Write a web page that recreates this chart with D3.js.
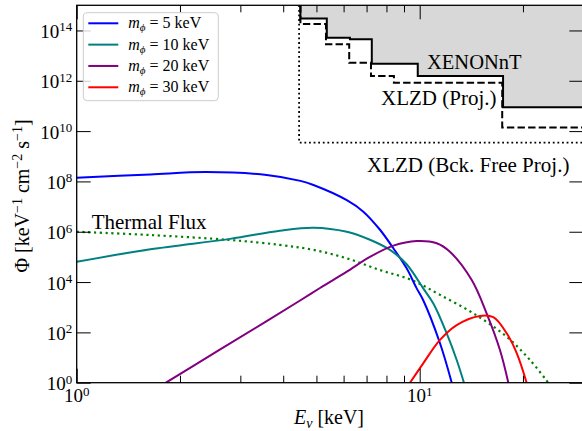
<!DOCTYPE html>
<html>
<head>
<meta charset="utf-8">
<script src="https://cdn.jsdelivr.net/npm/d3@7"></script>
<style>
  body { margin: 0; background: #fff; }
  text { font-family: "Liberation Serif", "DejaVu Serif", serif; fill: #000; }
</style>
</head>
<body>
<div id="chart"></div>
<script>
// Values: energy in keV, flux in keV^-1 cm^-2 s^-1
const energy5  = [1.0, 1.64, 2.39, 3.58, 4.49, 4.90, 6.13, 6.85, 7.66, 8.38, 9.16, 9.80, 10.24, 11.46, 12.4];
const flux5    = [1.4e8, 1.9e8, 2.35e8, 1.8e8, 1.05e8, 7.2e7, 1.8e7, 6.3e6, 1.2e6, 2.2e5, 3.5e4, 5.6e3, 1.9e3, 37, 1];

const energy10 = [1.0, 1.64, 2.80, 3.91, 4.90, 6.13, 7.16, 8.19, 9.16, 10.24, 10.96, 11.98, 12.82, 13.46];
const flux10   = [6.4e4, 2.0e5, 5.2e5, 1.1e6, 1.45e6, 1.0e6, 4.8e5, 1.9e5, 5.1e4, 5.6e3, 1.4e3, 93, 8, 1];

const energy20 = [1.82, 2.62, 3.58, 4.48, 5.12, 6.13, 7.16, 8.38, 9.80, 11.21, 12.25, 14.18, 15.67, 17.14, 18.13];
const flux20   = [1, 21, 280, 1.85e3, 5.8e3, 2.6e4, 1.0e5, 2.8e5, 4.3e5, 3.5e5, 1.6e5, 1.2e4, 575, 20, 1];

const energy30 = [9.37, 10.24, 11.46, 12.82, 14.99, 16.39, 17.93, 19.18, 20.5];
const flux30   = [1, 5.9, 50, 195, 450, 400, 92, 15, 1];

const energyThermal = [1.0, 1.64, 2.80, 3.91, 4.90, 6.13, 7.66, 9.48, 11.46, 14.33, 17.93, 20.97, 23.7];
const fluxThermal   = [1.0e6, 7.4e5, 4.7e5, 3.0e5, 1.9e5, 8.8e4, 3.0e4, 1.2e4, 3.1e3, 575, 67, 8, 1];

// Experimental limits (step edges in keV, flux level per bin)
const xenonEdges  = [4.49, 5.36, 6.26, 7.25, 9.87, 17.5, 30];
const xenonLimits = [3.0e14, 5.1e13, 4.5e13, 4.7e12, 1.55e12, 8.9e10];
const xlzdEdges   = [4.49, 5.33, 6.23, 7.21, 8.41, 17.4, 30];
const xlzdLimits  = [1.8e14, 2.8e13, 5.2e12, 1.55e12, 8.3e11, 1.4e10];
const bkgFreeEdges  = [4.45, 30];
const bkgFreeLimits = [3.5e9];

const masses = ["5", "10", "20", "30"];
const colors = ["blue", "teal", "purple", "red"];

const xMajor = [1, 10];
const xMinor = [2, 3, 4, 5, 6, 7, 8, 9, 20];
const yMajor = [1, 1e2, 1e4, 1e6, 1e8, 1e10, 1e12, 1e14];

// Set up margins and dimensions
const margin = { top: 5.3, left: 76.7 },
      width = 343 * Math.log10(30),
      height = 25.16 * 15;

const svg = d3.select("#chart")
    .append("svg")
    .attr("width", 582)
    .attr("height", 431);

const g = svg.append("g")
    .attr("transform", `translate(${margin.left},${margin.top})`);

const x = d3.scaleLog().domain([1, 30]).range([0, width]);
const y = d3.scaleLog().domain([1, 1e15]).range([height, 0]);

svg.append("defs").append("clipPath").attr("id", "clip")
    .append("rect").attr("width", width).attr("height", height);

const plot = g.append("g").attr("clip-path", "url(#clip)");

// Step limits
function stepPoints(edges, limits) {
    const pts = [{ e: edges[0], v: 1e15 }];
    limits.forEach((v, i) => pts.push({ e: edges[i], v }));
    pts.push({ e: edges[edges.length - 1], v: limits[limits.length - 1] });
    return pts;
}
const stepLine = d3.line().curve(d3.curveStepAfter).x(d => x(d.e)).y(d => y(d.v));

const xenonPts = stepPoints(xenonEdges, xenonLimits);
plot.append("path")
    .datum(xenonPts.slice(1))
    .attr("fill", "#d8d8d8")
    .attr("d", d3.area().curve(d3.curveStepAfter).x(d => x(d.e)).y0(0).y1(d => y(d.v)));

plot.append("path")
    .datum(stepPoints(bkgFreeEdges, bkgFreeLimits))
    .attr("fill", "none").attr("stroke", "#000")
    .attr("stroke-width", 1.8).attr("stroke-dasharray", "1.8,2.8")
    .attr("d", stepLine);

plot.append("path")
    .datum(stepPoints(xlzdEdges, xlzdLimits))
    .attr("fill", "none").attr("stroke", "#000")
    .attr("stroke-width", 2).attr("stroke-dasharray", "7.4,3.2")
    .attr("d", stepLine);

plot.append("path")
    .datum(xenonPts)
    .attr("fill", "none").attr("stroke", "#000")
    .attr("stroke-width", 2)
    .attr("d", stepLine);

// Flux curves
const series = [
    { e: energy5, f: flux5 },
    { e: energy10, f: flux10 },
    { e: energy20, f: flux20 },
    { e: energy30, f: flux30 }
];
const curve = d3.line().curve(d3.curveCatmullRom.alpha(0.5)).x(d => x(d[0])).y(d => y(d[1]));

plot.append("path")
    .datum(d3.zip(energyThermal, fluxThermal))
    .attr("fill", "none").attr("stroke", "green")
    .attr("stroke-width", 2.2).attr("stroke-dasharray", "2.2,3.6")
    .attr("d", curve);

series.forEach((s, i) => {
    plot.append("path")
        .datum(d3.zip(s.e, s.f))
        .attr("fill", "none")
        .attr("stroke", colors[i])
        .attr("stroke-width", 2)
        .attr("d", curve);
});

// Axes with inward ticks on all four sides
function ticks(axis, vals, size) {
    return axis.tickValues(vals).tickSizeInner(-size).tickSizeOuter(0).tickFormat("");
}
const axes = [
    [d3.axisBottom(x), `translate(0,${height})`, xMajor, 14],
    [d3.axisBottom(x), `translate(0,${height})`, xMinor, 7],
    [d3.axisTop(x), "", xMajor, 14],
    [d3.axisTop(x), "", xMinor, 7],
    [d3.axisLeft(y), "", yMajor, 14],
    [d3.axisRight(y), `translate(${width},0)`, yMajor, 14]
];
axes.forEach(([a, t, vals, size]) => {
    const ax = g.append("g").attr("transform", t).call(ticks(a, vals, size));
    ax.select(".domain").remove();
    ax.selectAll("line").attr("stroke", "#000").attr("stroke-width", 1);
});

g.append("rect")
    .attr("width", width).attr("height", height)
    .attr("fill", "none").attr("stroke", "#000").attr("stroke-width", 1.3);

// Tick labels as 10^n
function powerLabel(sel) {
    sel.each(function(d) {
        const t = d3.select(this);
        t.append("tspan").text("10");
        t.append("tspan").attr("dy", -6.6).attr("font-size", 13).text(Math.round(Math.log10(d)));
    });
}
g.selectAll(".xlab").data(xMajor).join("text")
    .attr("class", "xlab")
    .attr("x", d => x(d)).attr("y", height + 19.5)
    .attr("text-anchor", "middle").attr("font-size", 19)
    .call(powerLabel);

g.selectAll(".ylab").data(yMajor).join("text")
    .attr("class", "ylab")
    .attr("x", -4.5).attr("y", d => y(d) + 7.5)
    .attr("text-anchor", "end").attr("font-size", 19)
    .call(powerLabel);

// Axis titles
const xt = svg.append("text")
    .attr("x", 329).attr("y", 424)
    .attr("text-anchor", "middle").attr("font-size", 20);
xt.append("tspan").attr("font-style", "italic").text("E");
xt.append("tspan").attr("font-style", "italic").attr("font-size", 14).attr("dy", 4).text("ν");
xt.append("tspan").attr("dy", -4).text(" [keV]");

const yt = svg.append("text")
    .attr("transform", "translate(29,196) rotate(-90)")
    .attr("text-anchor", "middle").attr("font-size", 20);
yt.append("tspan").text("Φ [keV");
yt.append("tspan").attr("font-size", 14).attr("dy", -7).text("−1");
yt.append("tspan").attr("dy", 7).text(" cm");
yt.append("tspan").attr("font-size", 14).attr("dy", -7).text("−2");
yt.append("tspan").attr("dy", 7).text(" s");
yt.append("tspan").attr("font-size", 14).attr("dy", -7).text("−1");
yt.append("tspan").attr("dy", 7).text("]");

// Annotations
svg.append("text").attr("x", 427).attr("y", 69).attr("font-size", 20.5).text("XENONnT");
svg.append("text").attr("x", 381).attr("y", 104.5).attr("font-size", 21).text("XLZD (Proj.)");
svg.append("text").attr("x", 367).attr("y", 171.5).attr("font-size", 21).text("XLZD (Bck. Free Proj.)");
svg.append("text").attr("x", 91.7).attr("y", 229.3).attr("font-size", 21).text("Thermal Flux");

// Legend
const legend = svg.append("g");
legend.append("rect")
    .attr("x", 83.3).attr("y", 12.7).attr("width", 135).attr("height", 88).attr("rx", 4)
    .attr("fill", "#fff").attr("fill-opacity", 0.8)
    .attr("stroke", "#ccc").attr("stroke-width", 1);

const item = legend.selectAll(".item").data(masses).join("g")
    .attr("transform", (d, i) => `translate(0,${23.3 + i * 21.33})`);
item.append("line")
    .attr("x1", 88.3).attr("x2", 118.3)
    .attr("stroke", (d, i) => colors[i]).attr("stroke-width", 2);
item.append("text")
    .attr("x", 128.3).attr("y", 5).attr("font-size", 16)
    .each(function(d) {
        const t = d3.select(this);
        t.append("tspan").attr("font-style", "italic").text("m");
        t.append("tspan").attr("font-style", "italic").attr("font-size", 11).attr("dy", 3).text("ϕ");
        t.append("tspan").attr("dy", -3).text(` = ${d} keV`);
    });
</script>
</body>
</html>
